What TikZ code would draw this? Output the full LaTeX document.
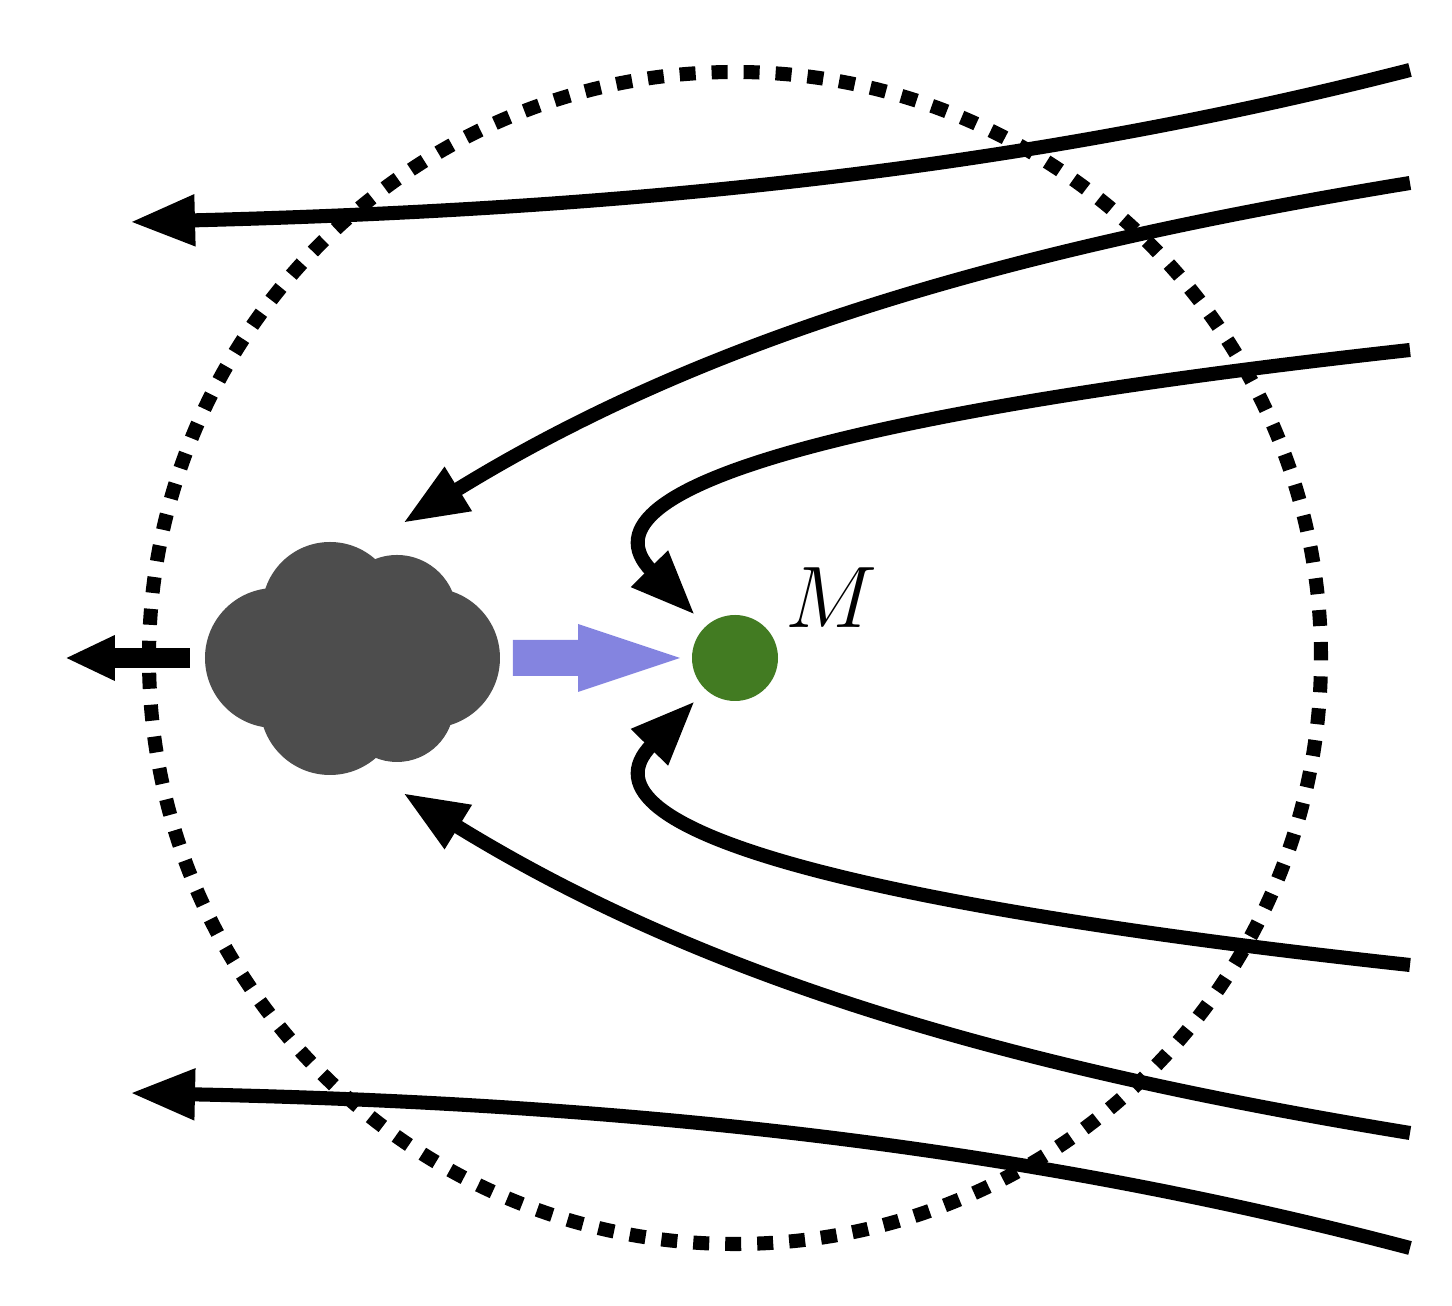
\documentclass[tikz,border=0pt]{standalone}
\usetikzlibrary{arrows.meta}
\definecolor{mgreen}{HTML}{427B22}
\definecolor{pushblue}{HTML}{8484E0}
\definecolor{cloudgray}{HTML}{4D4D4D}
\begin{document}
\begin{tikzpicture}[flow/.style={line width=4pt, -{Triangle[length=0.65cm, width=0.48cm]}},
    mass node/.style={circle, fill=mgreen, minimum size=0.86cm, inner sep=0pt}]
    \useasboundingbox (-7.35,-6.48) rectangle (7.17,6.58);

    % Region boundary
    \draw[line width=4pt, dash pattern=on 0.16cm off 0.16cm] (0,0) circle (5.86);

    % Central mass
    \node[mass node] (M) at (0,0) {};
    \node at (0.96,0.6) {\fontsize{28}{28}\selectfont $M$};

    % Cloud
    \fill[cloudgray] (-4.6,0) circle (0.7) (-3.05,0) circle (0.7)
        (-4.05,0.48) circle (0.68) (-3.38,0.43) circle (0.6)
        (-4.05,-0.47) circle (0.7) (-3.38,-0.47) circle (0.57)
        (-3.8,0) circle (0.75);
    \coordinate (cloud) at (-3.8,0);

    % Push towards M
    \fill[pushblue] (-2.22,0.18) -- (-1.57,0.18) -- (-1.57,0.34) -- (-0.55,0)
        -- (-1.57,-0.34) -- (-1.57,-0.18) -- (-2.22,-0.18) -- cycle;

    % Escape to the left
    \coordinate (e1) at (-5.45,0);
    \coordinate (e2) at (-6.7,0);
    \draw[line width=5.5pt, -{Triangle[length=0.5cm, width=0.42cm]}] (e1) -- (e2);

    % Flow lines
    \coordinate (a1) at (6.75,5.88);
    \coordinate (a2) at (6.75,4.75);
    \coordinate (a3) at (6.75,3.08);
    \coordinate (b1) at (6.75,-5.9);
    \coordinate (b2) at (6.75,-4.75);
    \coordinate (b3) at (6.75,-3.07);
    \draw[flow] (a1) .. controls (2.65,4.83) and (-1.35,4.48) .. (-6.05,4.36);
    \draw[flow] (a2) .. controls (2.65,4.08) and (-0.35,3.18) .. (-3.32,1.35);
    \draw[flow] (a3) .. controls (1.5,2.5) and (-1.7,1.75) .. (-0.4,0.43);
    \draw[flow] (b3) .. controls (1.5,-2.5) and (-1.7,-1.75) .. (-0.4,-0.43);
    \draw[flow] (b2) .. controls (2.65,-4.08) and (-0.35,-3.18) .. (-3.32,-1.35);
    \draw[flow] (b1) .. controls (2.65,-4.82) and (-1.35,-4.45) .. (-6.05,-4.35);
\end{tikzpicture}
\end{document}
